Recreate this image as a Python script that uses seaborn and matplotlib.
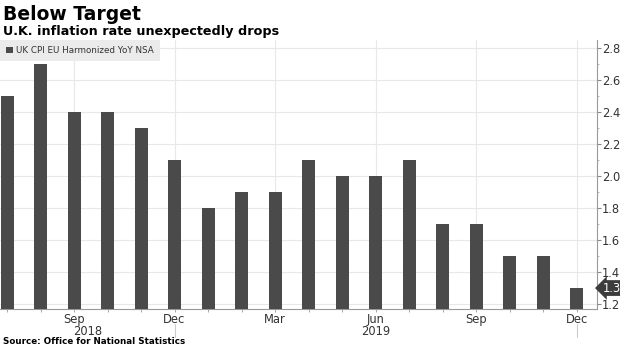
import matplotlib
matplotlib.use("Agg")
import matplotlib.pyplot as plt
import matplotlib.transforms as mtransforms
from matplotlib.patches import Patch
from matplotlib.ticker import MultipleLocator
import seaborn as sns
import pandas as pd

months = ["Jul 2018", "Aug 2018", "Sep 2018", "Oct 2018", "Nov 2018", "Dec 2018",
          "Jan 2019", "Feb 2019", "Mar 2019", "Apr 2019", "May 2019", "Jun 2019",
          "Jul 2019", "Aug 2019", "Sep 2019", "Oct 2019", "Nov 2019", "Dec 2019"]
cpi = [2.5, 2.7, 2.4, 2.4, 2.3, 2.1, 1.8, 1.9, 1.9, 2.1, 2.0, 2.0, 2.1, 1.7, 1.7, 1.5, 1.5, 1.3]
tick_idx = [2, 5, 8, 11, 14, 17]
tick_labels = ["Sep", "Dec", "Mar", "Jun", "Sep", "Dec"]
years = ["2018", "2019"]
series_name = "UK CPI EU Harmonized YoY NSA"
title = "Below Target"
subtitle = "U.K. inflation rate unexpectedly drops"
source = "Source: Office for National Statistics"

sns.set_style("white")
plt.rcParams["font.family"] = ["DejaVu Sans"]

df = pd.DataFrame({"month": months, "cpi": cpi})
bar_color = "#4a4a4a"

fig = plt.figure(figsize=(6.2, 3.48), dpi=100)
ax = fig.add_axes([0.0, 1 - 309 / 348, 597 / 620, (309 - 40) / 348])

sns.barplot(data=df, x="month", y="cpi", order=months, color=bar_color,
            width=0.39, saturation=1, linewidth=0, edgecolor="none", ax=ax, zorder=3)

ax.set_xlim(-0.21, 17.61)
ax.set_ylim(1.169, 2.85)

# grid
for yv in [1.2, 1.4, 1.6, 1.8, 2.0, 2.2, 2.4, 2.6, 2.8]:
    ax.axhline(yv, color="#e8e8e8", lw=0.8, zorder=0)
for xi in tick_idx:
    ax.axvline(xi, color="#e8e8e8", lw=0.8, zorder=0)

# y axis on right
ax.yaxis.tick_right()
ax.yaxis.set_major_locator(MultipleLocator(0.2))
ax.yaxis.set_minor_locator(MultipleLocator(0.1))
ax.yaxis.set_major_formatter(matplotlib.ticker.FormatStrFormatter("%.1f"))
ax.tick_params(axis="y", which="major", length=3, width=0.8, color="#888888",
               labelsize=8.3, labelcolor="#333333", pad=0.5, right=True, left=False)
ax.tick_params(axis="y", which="minor", length=1.5, width=0.6, color="#aaaaaa",
               right=True, left=False)

# x axis
ax.set_xticks(range(len(months)), minor=True)
ax.set_xticks(tick_idx)
ax.set_xticklabels(tick_labels)
ax.tick_params(axis="x", which="both", length=2.5, width=0.6, color="#999999",
               bottom=True, labelsize=8.3, labelcolor="#333333", pad=0.5)
ax.set_xlabel("")
ax.set_ylabel("")

for side in ["top", "left"]:
    ax.spines[side].set_visible(False)
ax.spines["bottom"].set_color("#999999")
ax.spines["bottom"].set_linewidth(0.8)
ax.spines["right"].set_color("#999999")
ax.spines["right"].set_linewidth(0.8)

# year labels and separators
trans = mtransforms.blended_transform_factory(ax.transData, fig.transFigure)
ax.text((-0.21 + 5) / 2, 1 - 331.5 / 348, years[0], transform=trans, ha="center",
        va="center", fontsize=8.3, color="#333333")
ax.text((5 + 17) / 2, 1 - 331.5 / 348, years[1], transform=trans, ha="center",
        va="center", fontsize=8.3, color="#333333")
for xi in [5, 17]:
    ax.plot([xi, xi], [1 - 324 / 348, 1 - 337 / 348], transform=trans,
            color="#cccccc", lw=0.8, clip_on=False)

# last value label
ax.annotate(f"{cpi[-1]:.1f}", xy=(1.0, cpi[-1]), xycoords=("axes fraction", "data"),
            xytext=(4.5, 0), textcoords="offset points", ha="left", va="center",
            fontsize=8.3, color="white",
            bbox=dict(boxstyle="larrow,pad=0.12", fc="#3c3c3c", ec="none"))

# legend
leg = ax.legend(handles=[Patch(facecolor=bar_color, edgecolor="none", label=series_name)],
                loc="upper left", bbox_to_anchor=(0.0, 1.0), borderaxespad=0,
                fontsize=6.3, frameon=True, fancybox=False, handlelength=0.8,
                handleheight=0.8, handletextpad=0.3, borderpad=0.7)
leg.get_frame().set_facecolor("#ebebeb")
leg.get_frame().set_edgecolor("none")
leg.get_frame().set_alpha(1)
for t in leg.get_texts():
    t.set_color("#333333")

fig.text(0.005, 1 - 14 / 348, title, fontsize=13.5, fontweight="bold", va="center",
         ha="left", color="black")
fig.text(0.005, 1 - 32 / 348, subtitle, fontsize=9.2, fontweight="bold", va="center",
         ha="left", color="black")
fig.text(0.005, 1 - 341.5 / 348, source, fontsize=6.3, fontweight="bold", va="center",
         ha="left", color="black")

fig.savefig("out.png", dpi=100)
